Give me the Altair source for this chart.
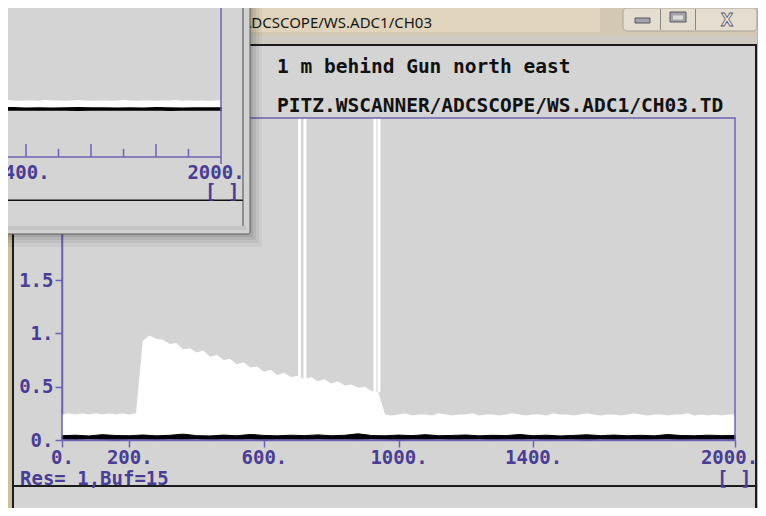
import altair as alt
import pandas as pd

# ---------------- values ----------------
# upper edge of the white signal band, one value every 20 units (x = 0 ... 2000)
env_x = list(range(0, 2001, 20))
env_hi = [
    0.24, 0.25, 0.24, 0.25, 0.24, 0.25, 0.24, 0.25, 0.24, 0.25, 0.24, 0.25,           # 0-220
    0.93, 0.98, 0.95, 0.94, 0.90, 0.91, 0.85, 0.86, 0.82, 0.84, 0.78, 0.80,           # 240-460
    0.75, 0.76, 0.71, 0.73, 0.68, 0.69, 0.64, 0.66, 0.61, 0.63, 0.59, 0.60,           # 480-700
    0.57, 0.59, 0.55, 0.57, 0.53, 0.55, 0.51, 0.52, 0.49, 0.50, 0.46, 0.45,           # 720-940
    0.24, 0.23, 0.24, 0.25, 0.23, 0.24, 0.24, 0.23, 0.25, 0.24,                       # 960-1140
    0.23, 0.24, 0.24, 0.25, 0.23, 0.24, 0.24, 0.23, 0.24, 0.25,                       # 1160-1340
    0.24, 0.23, 0.24, 0.24, 0.23, 0.25, 0.24, 0.24, 0.23, 0.24,                       # 1360-1540
    0.25, 0.24, 0.23, 0.24, 0.24, 0.23, 0.24, 0.25, 0.24, 0.23,                       # 1560-1740
    0.24, 0.24, 0.23, 0.24, 0.24, 0.25, 0.23, 0.24, 0.23, 0.24,                       # 1760-1940
    0.23, 0.24, 0.24,                                                                 # 1960-2000
]
# black baseline trace, one value every 40 units
blk_x = list(range(0, 2001, 40))
blk_hi = [
    0.040, 0.045, 0.038, 0.050, 0.042, 0.040, 0.047, 0.039, 0.044, 0.055,
    0.041, 0.038, 0.046, 0.040, 0.052, 0.043, 0.039, 0.045, 0.041, 0.048,
    0.040, 0.044, 0.058, 0.042, 0.039, 0.046, 0.041, 0.050, 0.040, 0.043,
    0.047, 0.039, 0.044, 0.041, 0.052, 0.040, 0.045, 0.038, 0.043, 0.049,
    0.041, 0.046, 0.040, 0.044, 0.039, 0.051, 0.042, 0.040, 0.045, 0.041,
    0.043,
]
blk_lo = [
    0.008, 0.005, 0.010, 0.006, 0.000, 0.008, 0.007, 0.004, 0.009, 0.006,
    0.010, 0.003, 0.008, 0.006, 0.009, 0.002, 0.007, 0.008, 0.005, 0.009,
    0.006, 0.008, 0.004, 0.010, 0.007, 0.000, 0.008, 0.006, 0.009, 0.005,
    0.007, 0.009, 0.003, 0.008, 0.006, 0.010, 0.004, 0.007, 0.008, 0.000,
    0.009, 0.006, 0.008, 0.005, 0.007, 0.010, 0.003, 0.008, 0.006, 0.009,
    0.007,
]
# narrow spikes that run off the top of the plot
spike_x = [706, 722, 930, 942]
spike_base = [0.58, 0.57, 0.45, 0.45]

x_ticks = [0, 200, 600, 1000, 1400, 2000]
y_ticks = [0, 0.5, 1, 1.5]

# partly hidden window in the top-left corner
small_major = [1400, 1600, 1800]
small_minor = [1500, 1700, 1900]
small_label_v = [1400, 2000]
small_label_t = ["1400.", "2000."]

title1 = "1 m behind Gun north east"
title2 = "PITZ.WSCANNER/ADCSCOPE/WS.ADC1/CH03.TD"
status_text = "Res= 1,Buf=15"
bracket_text = "[ ]"
win_title = "PITZ.WSCANNER/ADCSCOPE/WS.ADC1/CH03"

assert len(env_hi) == len(env_x)
assert len(blk_hi) == len(blk_x) == len(blk_lo)

# ---------------- layout / style ----------------
OX, OY = 62, 118           # page position of the plot origin
PW, PH = 673, 322          # plot size
PURPLE_LINE = "#6c63b4"
PURPLE_TEXT = "#4a3e94"
BG = "#d4d4d4"
MONO = "DejaVu Sans Mono"
LAB_FS = 19

X_MAIN = alt.Scale(domain=[0, 2000], nice=False, zero=False)
Y_MAIN = alt.Scale(domain=[0, 3.02], nice=False, zero=False)
X_SMALL = alt.Scale(domain=[1320, 2000], nice=False, zero=False, range=[0 - OX, 221 - OX])
Y_SMALL = alt.Scale(domain=[0, 0.25], nice=False, zero=False, range=[110 - OY, 100 - OY])

env_df = pd.DataFrame({"x": env_x, "hi": env_hi})
blk_df = pd.DataFrame({"x": blk_x, "hi": blk_hi, "lo": blk_lo})
spk_df = pd.DataFrame({"x": spike_x, "b": spike_base})


def rects(items):
    rows = []
    for it in items:
        x, x2, y, y2, fill = it[:5]
        stroke = it[5] if len(it) > 5 else "transparent"
        sw = it[6] if len(it) > 6 else 0
        op = it[7] if len(it) > 7 else 1
        rows.append(dict(x=x - OX, x2=x2 - OX, y=y - OY, y2=y2 - OY,
                         fill=fill, stroke=stroke, sw=sw, op=op))
    return pd.DataFrame(rows)


def rect_layer(items, **kw):
    return alt.Chart(rects(items)).mark_rect(**kw).encode(
        x=alt.X("x:Q", scale=None), x2="x2:Q",
        y=alt.Y("y:Q", scale=None), y2="y2:Q",
        fill=alt.Fill("fill:N", scale=None),
        stroke=alt.Stroke("stroke:N", scale=None),
        strokeWidth=alt.StrokeWidth("sw:Q", scale=None),
        opacity=alt.Opacity("op:Q", scale=None),
    )


def text_layer(items, **kw):
    df = pd.DataFrame([dict(x=x - OX, y=y - OY, t=t, c=c, fs=fs) for x, y, t, c, fs in items])
    return alt.Chart(df).mark_text(baseline="alphabetic", **kw).encode(
        x=alt.X("x:Q", scale=None), y=alt.Y("y:Q", scale=None),
        text="t:N", color=alt.Color("c:N", scale=None), size=alt.Size("fs:Q", scale=None),
    )


# ---------------- window chrome behind the plot ----------------
chrome = rect_layer([
    (0, 766, 0, 44, "#d2c8b3"),
    (250, 600, 0, 32, "#e6dac1", "transparent", 0, 0.7),
    (0, 766, 36, 44, "#cfcbc4"),
    (757, 766, 0, 516, "#c1b59c"),
    (0, 13, 0, 516, "#cdbf9f"),
    (2, 3.5, 0, 516, "#3c3a36"),
    (0, 766, 510, 516, "#c8bda5"),
    (13, 757, 44, 46, "#1c1c1c"),
    (12, 14, 44, 510, "#1c1c1c"),
    (755, 757, 44, 510, "#1c1c1c"),
    (13, 756, 485, 487, "#1c1c1c"),
    (13, 757, 508, 510, "#eeeeee"),
])
buttons = rect_layer([
    (623, 757, 8, 31, "#f4f1ea", "#8a867e", 1, 0.55),
], cornerRadius=4)
glyphs = rect_layer([
    (660, 661, 9, 30, "#8a867e"),
    (695, 696, 9, 30, "#8a867e"),
    (635, 650, 18, 23, "#a4a4ac", "#55555f", 1),
    (670, 686, 12, 22, "#a4a4ac", "#55555f", 1),
    (673, 683, 15.5, 19.5, "#dcdcdc"),
])
close_x = text_layer([(727, 26, "X", "#e9e9ee", 18)], font="Noto Sans",
                     fontWeight="bold", align="center", stroke="#5a5a64", strokeWidth=0.8)
win_title_layer = text_layer([(432, 28, win_title, "#151515", 15)], font="Noto Sans", align="right")

# ---------------- main plot ----------------
x_axis = alt.Axis(values=x_ticks, labelExpr="datum.value + '.'", title=None, grid=False,
                  domainColor=PURPLE_LINE, domainWidth=1.5, tickColor=PURPLE_LINE, tickWidth=1.5,
                  tickSize=7, labelColor=PURPLE_TEXT, labelFont=MONO, labelFontSize=LAB_FS,
                  labelFontWeight="bold", labelPadding=1, labelFlush=False, labelOverlap=False,
                  labelBound=False,
                  labelOffset={"condition": {"test": "datum.value === 2000", "value": -6}, "value": 0})
y_axis = alt.Axis(values=y_ticks,
                  labelExpr="datum.value == floor(datum.value) ? datum.value + '.' : '' + datum.value",
                  title=None, grid=False, domainColor=PURPLE_LINE, domainWidth=1.5,
                  tickColor=PURPLE_LINE, tickWidth=1.5, tickSize=7, labelColor=PURPLE_TEXT,
                  labelFont=MONO, labelFontSize=LAB_FS, labelFontWeight="bold", labelPadding=2,
                  labelFlush=False, labelOverlap=False, labelBound=False)

white = alt.Chart(env_df).mark_area(color="white", interpolate="linear").encode(
    x=alt.X("x:Q", scale=X_MAIN, axis=x_axis),
    y=alt.Y("hi:Q", scale=Y_MAIN, axis=y_axis),
    y2=alt.datum(0),
)
black = alt.Chart(blk_df).mark_area(color="#000000", stroke="#000000", strokeWidth=1).encode(
    x=alt.X("x:Q", scale=X_MAIN, axis=None),
    y=alt.Y("hi:Q", scale=Y_MAIN, axis=None),
    y2="lo:Q",
)
spikes = alt.Chart(spk_df).mark_rule(color="white", strokeWidth=3).encode(
    x=alt.X("x:Q", scale=X_MAIN, axis=None),
    y=alt.Y("b:Q", scale=Y_MAIN, axis=None),
    y2=alt.value(0),
)
frame = alt.Chart(pd.DataFrame({"a": [0]})).mark_rect(
    fill="transparent", stroke=PURPLE_LINE, strokeWidth=1.5).encode(
    x=alt.value(0), x2=alt.value(PW), y=alt.value(0), y2=alt.value(PH))

titles = text_layer([
    (277, 73, title1, "#111111", 19.5),
    (277, 112, title2, "#111111", 19.5),
], font=MONO, fontWeight="bold", align="left")
status = text_layer([
    (20, 485, status_text, PURPLE_TEXT, LAB_FS),
    (717, 485, bracket_text, PURPLE_TEXT, LAB_FS),
], font=MONO, fontWeight="bold", align="left")

# ---------------- the overlapping window at top left ----------------
shadow = rect_layer([
    (0, 262, 0, 247, "#000000", "transparent", 0, 0.04),
    (0, 259, 0, 243, "#000000", "transparent", 0, 0.05),
    (0, 256, 0, 240, "#000000", "transparent", 0, 0.06),
    (0, 253, 0, 237, "#000000", "transparent", 0, 0.08),
])
small_win = rect_layer([
    (-5, 250, -5, 234, "#d2d2d2", "#5c5c5c", 1),
    (-5, 243, -5, 228, BG, "#4a4a4a", 1),
    (-5, 247, 226, 230, "#c4c4c4"),
    (-5, 243, 199.5, 201, "#111111"),
], cornerRadius=2)
small_white = alt.Chart(env_df).transform_filter("datum.x >= 1320").mark_area(color="white").encode(
    x=alt.X("x:Q", scale=X_SMALL, axis=None),
    y=alt.Y("hi:Q", scale=Y_SMALL, axis=None),
    y2=alt.datum(0),
)
small_black = alt.Chart(blk_df).transform_filter("datum.x >= 1320").mark_area(
    color="#000000", stroke="#000000", strokeWidth=2).encode(
    x=alt.X("x:Q", scale=X_SMALL, axis=None),
    y=alt.Y("hi:Q", scale=Y_SMALL, axis=None),
    y2="lo:Q",
)
small_axes = rect_layer([
    (-5, 221, 156.25, 157.75, PURPLE_LINE),
    (220.25, 221.75, -5, 164, PURPLE_LINE),
])
tick_df = pd.DataFrame({
    "v": small_major + small_minor,
    "y1": [144 - OY] * len(small_major) + [149 - OY] * len(small_minor),
    "y2": [157 - OY] * (len(small_major) + len(small_minor)),
})
small_ticks = alt.Chart(tick_df).mark_rule(color=PURPLE_LINE, strokeWidth=1.5).encode(
    x=alt.X("v:Q", scale=X_SMALL, axis=None),
    y=alt.Y("y1:Q", scale=None), y2="y2:Q",
)
small_lab = alt.Chart(pd.DataFrame({"v": small_label_v, "t": small_label_t})).mark_text(
    font=MONO, fontWeight="bold", fontSize=LAB_FS, color=PURPLE_TEXT, align="center",
    baseline="alphabetic", dx=-5).encode(
    x=alt.X("v:Q", scale=X_SMALL, axis=None), y=alt.value(179 - OY), text="t:N")
small_br = text_layer([(205, 198, bracket_text, PURPLE_TEXT, LAB_FS)], font=MONO,
                      fontWeight="bold", align="left")

chart = alt.layer(
    chrome, buttons, glyphs, close_x, win_title_layer,
    white, black, spikes, frame, titles, status,
    shadow, small_win, small_white, small_black, small_axes, small_ticks, small_lab, small_br,
).resolve_scale(x="independent", y="independent").properties(
    width=PW, height=PH,
    padding={"left": OX - 8, "top": OY - 8, "right": 750 - (OX - 8) - PW, "bottom": 500 - (OY - 8) - PH},
    autosize=alt.AutoSizeParams(type="none"),
    background=BG,
).configure_view(stroke=None)

chart.save("out.html", embed_options={"renderer": "svg", "actions": False})
